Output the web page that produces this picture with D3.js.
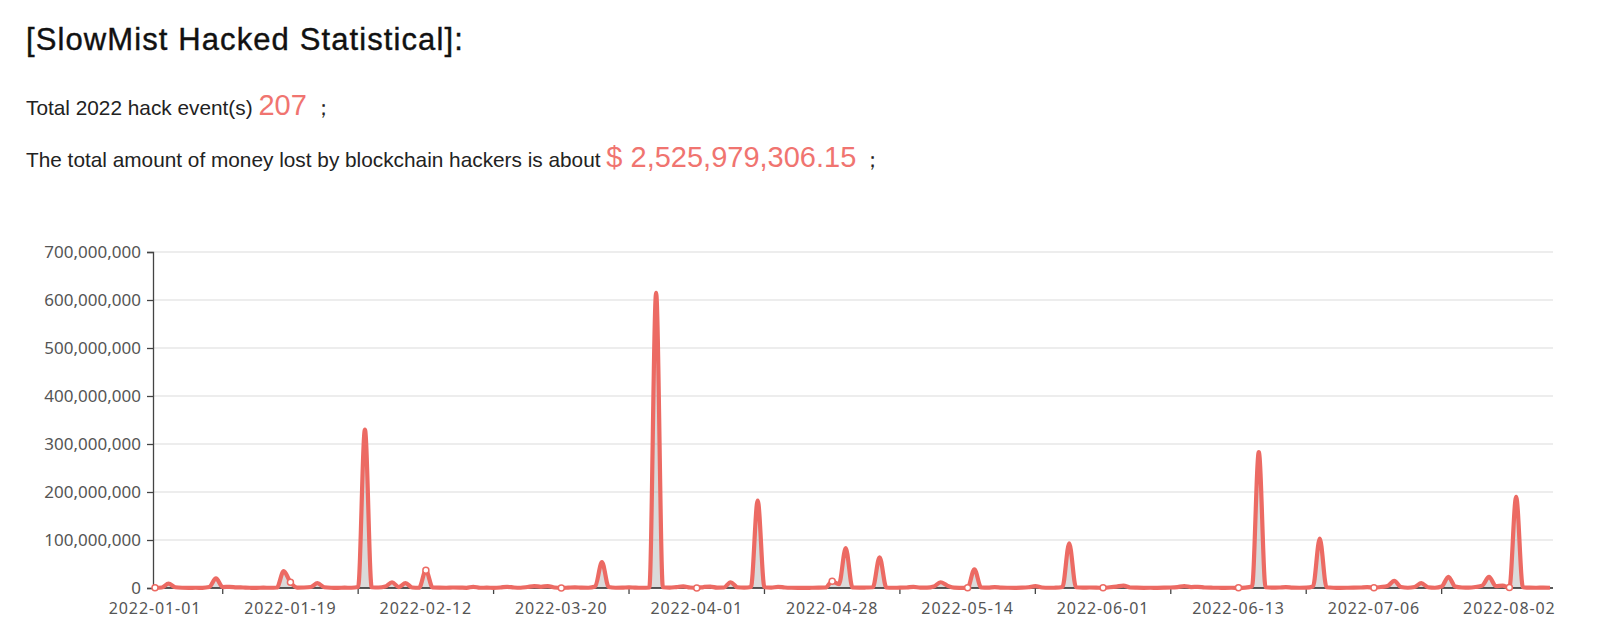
<!DOCTYPE html>
<html lang="en">

<head>
    <meta charset="UTF-8" />
    <title>SlowMist Hacked Statistical</title>
    <style>
        body {
            margin: 0;
            background: #fff;
            font-family: "Noto Sans", "Open Sans", sans-serif;
        }

        .head {
            font-family: "Liberation Sans", Arial, sans-serif;
        }
    </style>
</head>

<body>
    <div id="container"></div>
</body>
<script src="https://cdnjs.cloudflare.com/ajax/libs/d3/7.8.5/d3.min.js"></script>
<script>
    // loss per hack event in 2022, in millions of USD (one point per event, 207 events)
    let lossM = [
        0.5, 1, 9, 1.5, 0.5, 0.3, 0.5, 0.4, 2, 20,
        2, 2.5, 1.5, 1, 0.5, 0.4, 0.6, 0.5, 1, 35,
        12, 0.8, 1, 2, 10, 1.5, 0.5, 0.4, 0.6, 0.5,
        2, 330, 1.5, 1, 3, 12, 2, 10, 1, 0.5,
        37, 1, 0.6, 0.5, 1, 0.8, 0.4, 2.5, 0.5, 0.6,
        0.4, 1, 2.5, 1, 0.5, 2, 4, 2.5, 4, 1,
        0.2, 0.8, 1.5, 0.7, 0.5, 3, 54, 2, 0.5, 0.7,
        1.5, 0.6, 0.5, 1, 615, 1.5, 0.8, 2, 3.5, 1,
        0.2, 2, 3, 0.8, 1, 12, 1.5, 0.6, 2, 182,
        1.5, 0.8, 2.5, 1, 0.5, 0.4, 0.3, 0.5, 0.6, 1,
        14, 8, 83, 1, 0.7, 1, 1.5, 64, 1, 0.5,
        0.6, 1, 2.5, 0.8, 0.6, 3, 12, 5, 0.6, 0.4,
        0.3, 39, 1, 0.6, 2, 0.8, 0.5, 0.4, 0.6, 1.5,
        4, 1, 0.5, 0.6, 2, 93, 1.5, 0.6, 1, 0.8,
        0.3, 1.5, 3, 5, 1, 0.6, 0.4, 0.5, 0.4, 0.6,
        1, 2, 4, 2, 2.5, 1, 0.6, 0.5, 0.4, 0.5,
        0.3, 0.8, 3, 283, 1.5, 0.6, 1, 2, 0.8, 0.5,
        0.6, 3, 103, 1.5, 0.5, 0.4, 0.5, 0.6, 1, 2,
        0.6, 2, 4, 15, 2, 0.5, 2, 10, 1.5, 0.5,
        3, 23, 3, 1, 0.6, 2, 5, 23, 4, 5,
        1, 190, 1.5, 0.6, 0.5, 0.8, 0.5
    ];
    // dates shown on the x axis, one every 20 events
    let tickLabels = ["2022-01-01", "2022-01-19", "2022-02-12", "2022-03-20", "2022-04-01", "2022-04-28",
        "2022-05-14", "2022-06-01", "2022-06-13", "2022-07-06", "2022-08-02"];
    let labelEvery = 20;
    let yTicks = [0, 100e6, 200e6, 300e6, 400e6, 500e6, 600e6, 700e6];
    let totalEvents = "207";
    let totalLoss = "$ 2,525,979,306.15";

    let W = 1600, H = 635;
    let plotL = 153, plotR = 1553, plotT = 252, plotB = 588;
    let red = "#ec6a63", redText = "#f07470";

    let svg = d3.select("#container").append("svg").attr("width", W).attr("height", H);

    // header texts
    svg.append("text").attr("class", "head").attr("x", 26).attr("y", 50)
        .style("font-size", "31px").style("letter-spacing", "1.1px").style("fill", "#111")
        .style("stroke", "#111").style("stroke-width", 0.4)
        .text("[SlowMist Hacked Statistical]:");

    let t1 = svg.append("text").attr("class", "head").attr("x", 26).attr("y", 115)
        .style("font-size", "20.8px").style("fill", "#222");
    t1.append("tspan").text("Total 2022 hack event(s) ");
    t1.append("tspan").style("font-size", "29px").style("fill", redText).text(totalEvents);
    t1.append("tspan").text(" \uFF1B");

    let t2 = svg.append("text").attr("class", "head").attr("x", 26).attr("y", 167)
        .style("font-size", "20.8px").style("fill", "#222");
    t2.append("tspan").text("The total amount of money lost by blockchain hackers is about ");
    t2.append("tspan").style("font-size", "29px").style("fill", redText).text(totalLoss);
    t2.append("tspan").text(" \uFF1B");

    // scales
    let idx = d3.range(lossM.length);
    let x = d3.scalePoint().domain(idx).range([plotL + 2, plotR - 3]);
    let y = d3.scaleLinear().domain([0, 700e6]).range([plotB, plotT]);

    // grid
    svg.append("g").selectAll("line").data(yTicks.slice(1)).enter().append("line")
        .attr("x1", plotL).attr("x2", plotR)
        .attr("y1", d => y(d)).attr("y2", d => y(d))
        .style("stroke", "#dcdcdc").style("stroke-width", 1.2);

    // y axis
    let yAxis = svg.append("g").attr("transform", `translate(${plotL},0)`)
        .call(d3.axisLeft(y).tickValues(yTicks).tickSize(6).tickPadding(6).tickFormat(d3.format(",")));
    yAxis.select(".domain").style("stroke", "#444").style("stroke-width", 1.3);
    yAxis.selectAll(".tick line").style("stroke", "#444").style("stroke-width", 1.3);
    yAxis.selectAll("text").style("font-family", "'Noto Sans', sans-serif").style("font-size", "17px").style("fill", "#555");

    // area + line
    let area = d3.area().x(i => x(i)).y0(y(0)).y1(i => y(lossM[i] * 1e6)).curve(d3.curveMonotoneX);
    let line = d3.line().x(i => x(i)).y(i => y(lossM[i] * 1e6)).curve(d3.curveMonotoneX);

    svg.append("path").datum(idx).attr("d", area).style("fill", "rgba(150,150,150,0.35)");

    // x axis line and ticks
    svg.append("line").attr("x1", plotL).attr("x2", plotR).attr("y1", plotB).attr("y2", plotB)
        .style("stroke", "#222").style("stroke-width", 1.5);
    let tickIdx = idx.filter(i => i % labelEvery === labelEvery / 2);
    svg.append("g").selectAll("line").data(tickIdx).enter().append("line")
        .attr("x1", d => x(d)).attr("x2", d => x(d))
        .attr("y1", plotB).attr("y2", plotB + 6)
        .style("stroke", "#444").style("stroke-width", 1.3);
    let labelIdx = idx.filter(i => i % labelEvery === 0);
    svg.append("g").selectAll("text").data(labelIdx).enter().append("text")
        .attr("x", d => x(d)).attr("y", plotB + 26)
        .attr("text-anchor", "middle")
        .style("font-size", "16px").style("letter-spacing", "0.9px").style("fill", "#555")
        .text(d => tickLabels[d / labelEvery]);

    svg.append("path").datum(idx).attr("d", line)
        .style("fill", "none").style("stroke", red).style("stroke-width", 4.2)
        .style("stroke-linejoin", "round");

    // symbols shown at labelled points
    svg.append("g").selectAll("circle").data(labelIdx).enter().append("circle")
        .attr("cx", d => x(d)).attr("cy", d => y(lossM[d] * 1e6)).attr("r", 3)
        .style("fill", "#fff").style("stroke", red).style("stroke-width", 1.5);
</script>

</html>
